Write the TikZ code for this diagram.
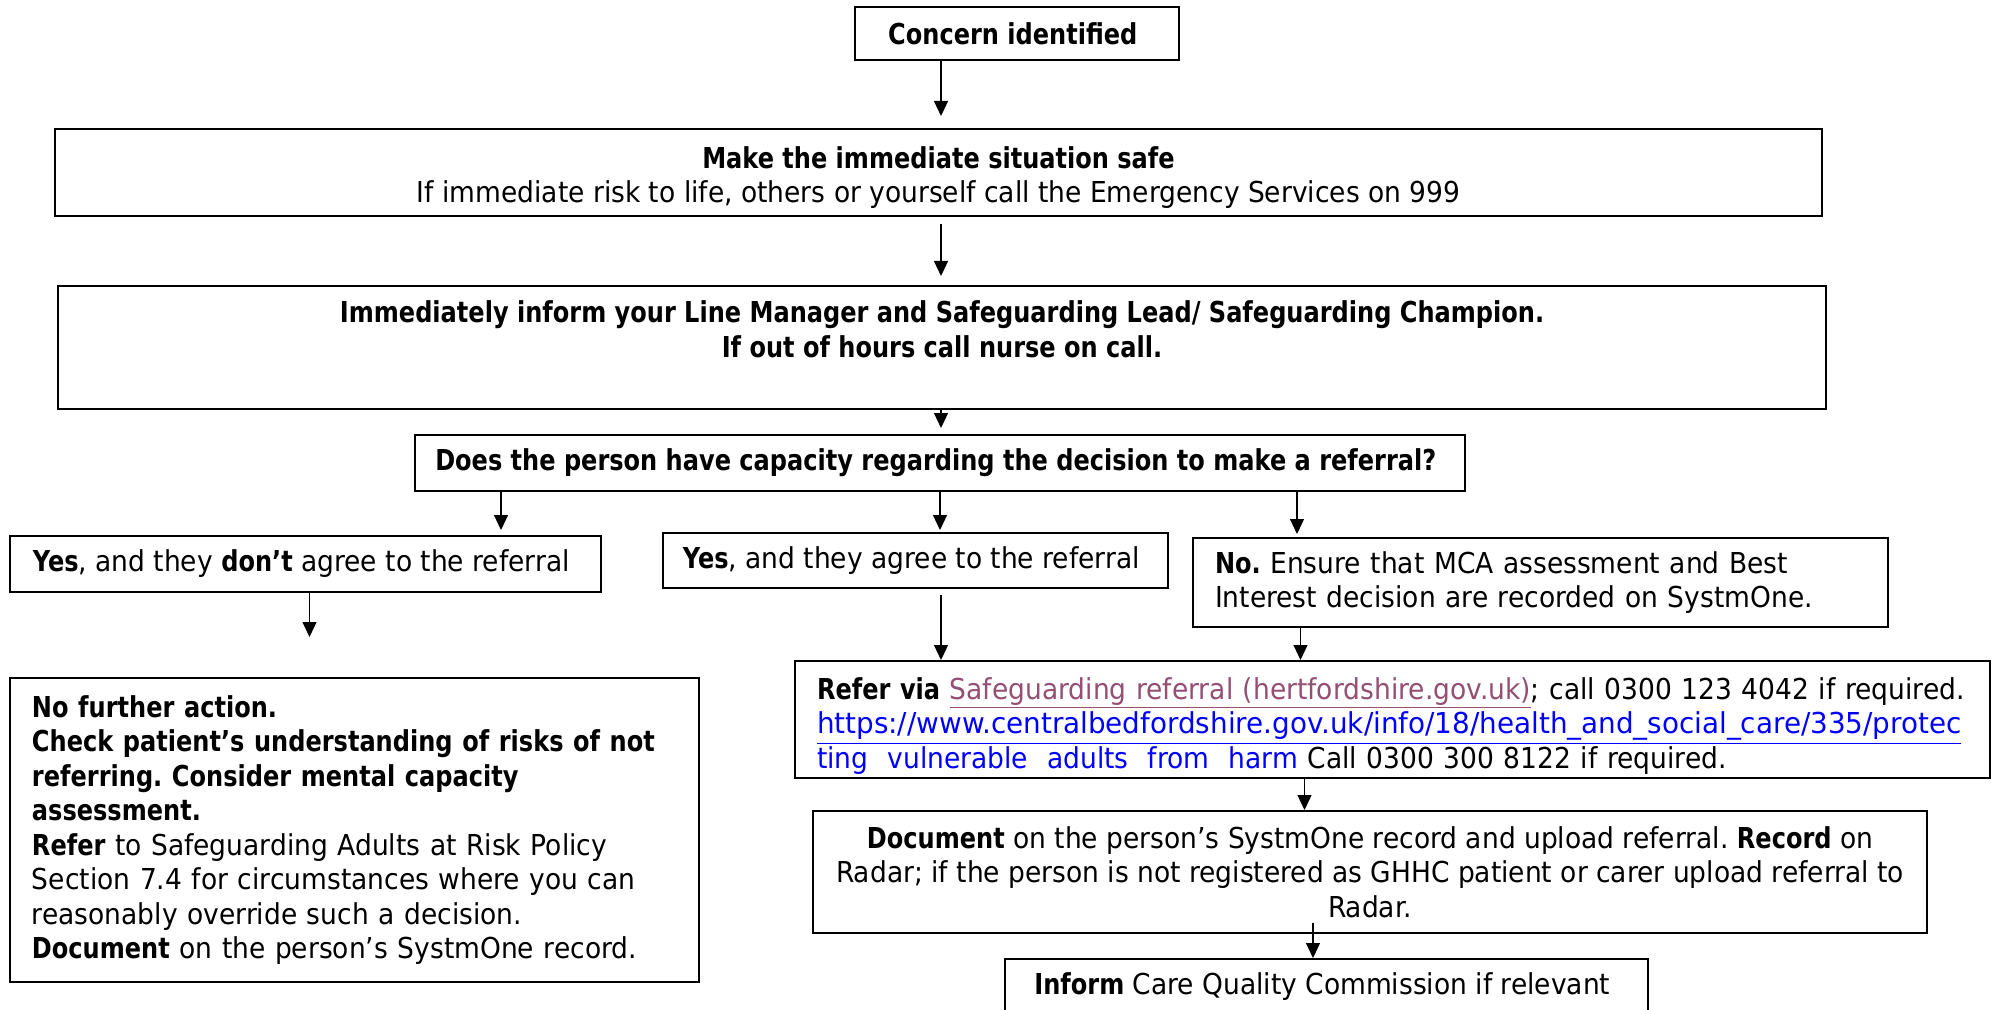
\documentclass[tikz,border=0pt]{standalone}
\usepackage{fontspec}
\setmainfont{DejaVu Sans}[
    UprightFeatures={FakeStretch=0.92},
    BoldFont={DejaVu Sans Bold},
    BoldFeatures={FakeStretch=0.835}]
\newfontfamily\urlfont{DejaVu Sans}[FakeStretch=0.965]
\usepackage{tikz}
\usetikzlibrary{arrows.meta, positioning, calc}
\definecolor{linkVisited}{HTML}{954F72}
\definecolor{linkBlue}{HTML}{0000FF}

\begin{document}
\frenchspacing
\begin{tikzpicture}[x=0.5pt,y=-0.5pt,
    stepbox/.style={rectangle,draw=black,line width=1pt,fill=white,inner sep=0pt,
                    align=center,font=\fontsize{14.4}{17.25}\selectfont},
    leftbox/.style={stepbox,align=left,inner xsep=11pt},
    flow/.style={-{Triangle[length=7.5pt,width=7pt]},line width=0.6pt}
]
    \clip (0,0) rectangle (2001,1010);
    \coordinate (spine) at (941,0);

    % Top of the chart
    \node[stepbox,minimum width=162pt,minimum height=26.5pt] (concern) at (1017,33.5) {
        \textbf{Concern identified}
    };
    \node[stepbox,minimum width=883.5pt,minimum height=43.5pt] (safe) at (938.5,172.5) {
        \rule{0pt}{16pt}\textbf{Make the immediate situation safe}\\
        If immediate risk to life, others or yourself call the Emergency Services on 999
    };
    \node[stepbox,minimum width=884pt,minimum height=61.5pt] (immed) at (942,347.5) {
        \textbf{Immediately inform your Line Manager and Safeguarding Lead/ Safeguarding Champion.}\\
        \textbf{If out of hours call nurse on call.}\\[1pt]
        \mbox{}
    };
    \node[stepbox,minimum width=525pt,minimum height=28pt] (question) at (940,463) {
        \textbf{Does the person have capacity regarding the decision to make a referral?}
    };

    % Answers
    \node[stepbox,minimum width=295.5pt,minimum height=28pt] (dont) at (305.5,564) {
        \textbf{Yes}, and they \textbf{don't} agree to the referral
    };
    \node[stepbox,minimum width=252.5pt,minimum height=27.5pt] (agree) at (915.5,560.5) {
        \textbf{Yes}, and they agree to the referral
    };
    \node[leftbox,text width=325.5pt,minimum height=44.5pt] (nobox) at (1540.5,582.5) {
        \textbf{No.} Ensure that MCA assessment and Best\\
        Interest decision are recorded on SystmOne.
    };

    % Outcomes
    \node[leftbox,text width=322.5pt,minimum height=152pt] (nfa) at (354.5,830) {
        \textbf{No further action.}\\
        \textbf{Check patient's understanding of risks of not}\\
        \textbf{referring. Consider mental capacity}\\
        \textbf{assessment.}\\
        \textbf{Refer} to Safeguarding Adults at Risk Policy\\
        Section 7.4 for circumstances where you can\\
        reasonably override such a decision.\\
        \textbf{Document} on the person's SystmOne record.
    };
    \node[leftbox,text width=575.5pt,minimum height=58.5pt] (refer) at (1392.5,719.5) {
        \rule{0pt}{17pt}\textbf{Refer via} \textcolor{linkVisited}{\underline{Safeguarding referral (hertfordshire.gov.uk)}}; call 0300 123 4042 if required.\\
        \textcolor{linkBlue}{\underline{\urlfont https://www.centralbedfordshire.gov.uk/info/18/health\_and\_social\_care/335/protec}}\\
        \textcolor{linkBlue}{ting\ \ vulnerable\ \ adults\ \ from\ \ harm}\ Call 0300 300 8122 if required.
    };
    \node[stepbox,minimum width=557pt,minimum height=61pt] (document) at (1370,872) {
        \textbf{Document} on the person's SystmOne record and upload referral. \textbf{Record} on\\
        Radar; if the person is not registered as GHHC patient or carer upload referral to\\
        Radar.
    };
    \node[stepbox,minimum width=321.5pt,minimum height=28pt] (cqc) at (1326.5,987) {
        \textbf{Inform} Care Quality Commission if relevant
    };

    % Arrows
    \draw[flow,shorten >=6pt] (concern.south -| spine) -- (safe.north -| spine);
    \draw[flow,shorten <=3.5pt,shorten >=4.5pt] (safe.south -| spine) -- (immed.north -| spine);
    \draw[flow,shorten >=3pt] (immed.south -| spine) -- (question.north -| spine);
    \draw[flow,shorten >=2.5pt] ([xshift=-219.5pt]question.south) -- ([xshift=-219.5pt]question.south |- dont.north);
    \draw[flow,shorten >=1pt] (question.south) -- (question.south |- agree.north);
    \draw[flow,shorten >=1.5pt] ([xshift=178.5pt]question.south) -- ([xshift=178.5pt]question.south |- nobox.north);
    \draw[flow,shorten >=20pt] ([xshift=2pt]dont.south) -- ([xshift=2pt]dont.south |- nfa.north);
    \draw[flow,shorten <=3pt] (agree.south -| spine) -- (refer.north -| spine);
    \draw[flow] ([xshift=-120pt]nobox.south) -- ([xshift=-120pt]nobox.south |- refer.north);
    \draw[flow] ([xshift=-44pt]refer.south) -- ([xshift=-44pt]refer.south |- document.north);
    \draw[flow,shorten <=-5.5pt] ([xshift=-28.5pt]document.south) -- ([xshift=-28.5pt]document.south |- cqc.north);
\end{tikzpicture}
\end{document}
